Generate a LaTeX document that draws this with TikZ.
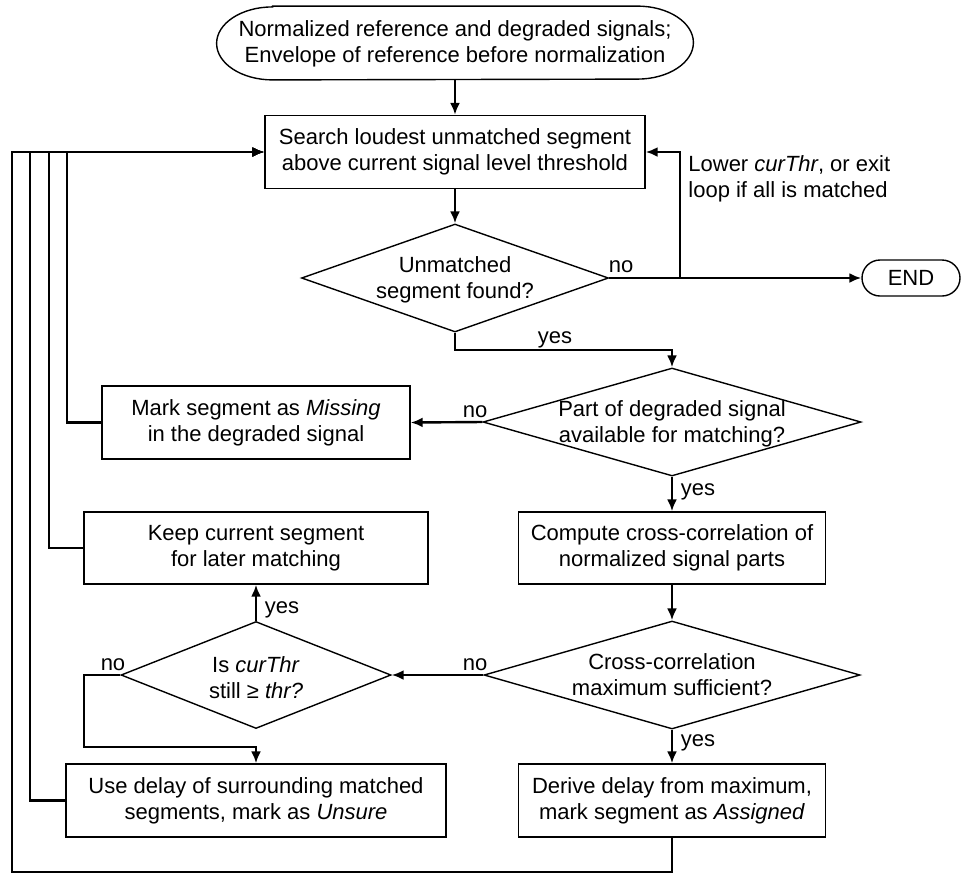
\documentclass[tikz,border=0pt]{standalone}
\usepackage{fontspec}
\setmainfont{Liberation Sans}
\usetikzlibrary{arrows.meta,shapes.geometric}
\begin{document}
\begin{tikzpicture}[x=0.5pt,y=-0.5pt,
  every node/.style={font=\fontsize{11pt}{13pt}\selectfont, inner sep=0pt, align=center},
  boxn/.style={draw, line width=0.7pt, rectangle, minimum height=36.5pt},
  dian/.style={draw, line width=0.7pt, diamond, minimum height=54pt},
  arr/.style={line width=1.2pt, -{Latex[length=6pt,width=5pt]}}
]
\useasboundingbox (0,0) rectangle (963,874);

% nodes
\node[minimum width=238pt, minimum height=36.5pt] (st) at (455,43) {};
\draw[line width=0.7pt] ([xshift=28pt]st.north west) -- ([xshift=-28pt]st.north east)
  arc[start angle=90, end angle=-90, x radius=28pt, y radius=18.25pt]
  -- ([xshift=28pt]st.south west)
  arc[start angle=270, end angle=90, x radius=28pt, y radius=18.25pt] -- cycle;
\node (stt) at (455,44) {Normalized reference and degraded signals;\\Envelope of reference before normalization};

\node[boxn, minimum width=190pt] (search) at (455,152) {Search loudest unmatched segment\\above current signal level threshold};

\node[dian, minimum width=153.5pt] (d1) at (455,278) {};
\node (d1t) at (455,280) {Unmatched\\segment found?};

\node[draw, line width=0.7pt, rectangle, rounded corners=9pt, minimum width=49pt, minimum height=18pt] (endn) at (911,278) {END};

\node[dian, minimum width=189pt] (d2) at (672,422) {};
\node (d2t) at (672,424) {Part of degraded signal\\available for matching?};

\node[boxn, minimum width=154pt] (miss) at (256,422.5) {Mark segment as \textit{Missing}\\in the degraded signal};

\node[boxn, minimum width=172pt, minimum height=36pt] (keep) at (256,548) {Keep current segment\\for later matching};

\node[boxn, minimum width=153.5pt, minimum height=36pt] (comp) at (672,548) {Compute cross-correlation of\\normalized signal parts};

\node[dian, minimum width=188pt] (d3) at (672,675) {};
\node (d3t) at (672,675) {Cross-correlation\\maximum sufficient?};

\node[dian, minimum width=135pt, minimum height=53.5pt] (d4) at (256,675) {};
\node (d4t) at (256,678) {Is \textit{curThr}\\still ≥ \textit{thr?}};

\node[boxn, minimum width=190pt] (use) at (256,800.5) {Use delay of surrounding matched\\segments, mark as \textit{Unsure}};

\node[boxn, minimum width=153.5pt] (der) at (672,800.5) {Derive delay from maximum,\\mark segment as \textit{Assigned}};

% coordinates
\coordinate (x1) at (12,0);
\coordinate (x2) at (30,0);
\coordinate (x3) at (49,0);
\coordinate (x4) at (67,0);
\coordinate (xr) at (680,0);
\coordinate (yb) at (0,872);
\coordinate (j1) at (672,350);
\coordinate (j2) at (84,747);

% connectors
\draw[arr] (st.south) -- (search.north);
\draw[arr] (search.south) -- (d1.north);
\draw[arr] (d1.east) -- (endn.west);
\draw[arr] (d1.east -| xr) -- (search.east -| xr) -- (search.east);
\draw[arr] (d1.south) |- (j1) -- (d2.north);
\draw[arr] (d2.west) -- (miss.east);
\draw[arr] (d2.south) -- (comp.north);
\draw[arr] (comp.south) -- (d3.north);
\draw[arr] (d3.west) -- (d4.east);
\draw[arr] (d3.south) -- (der.north);
\draw[arr] (d4.north) -- (keep.south);
\draw[arr] (d4.west) -| (j2) -- (j2 -| use.north) -- (use.north);

\draw[arr] (miss.west) -- (miss.west -| x4) -- (search.west -| x4) -- (search.west);
\draw[arr] (keep.west) -- (keep.west -| x3) -- (search.west -| x3) -- (search.west);
\draw[arr] (use.west) -- (use.west -| x2) -- (search.west -| x2) -- (search.west);
\draw[arr] (der.south) -- (der.south |- yb) -- (yb -| x1) -- (search.west -| x1) -- (search.west);

% labels
\node (l1) at (621,267) {no};
\node (l2) at (555,340) {yes};
\node (l3) at (475,412) {no};
\node (l4) at (698,492) {yes};
\node (l5) at (282,610) {yes};
\node (l6) at (475,665) {no};
\node (l7) at (113,665) {no};
\node (l8) at (698,743) {yes};
\node[anchor=west, align=left] (l9) at (688,179) {Lower \textit{curThr}, or exit\\loop if all is matched};
\end{tikzpicture}
\end{document}
